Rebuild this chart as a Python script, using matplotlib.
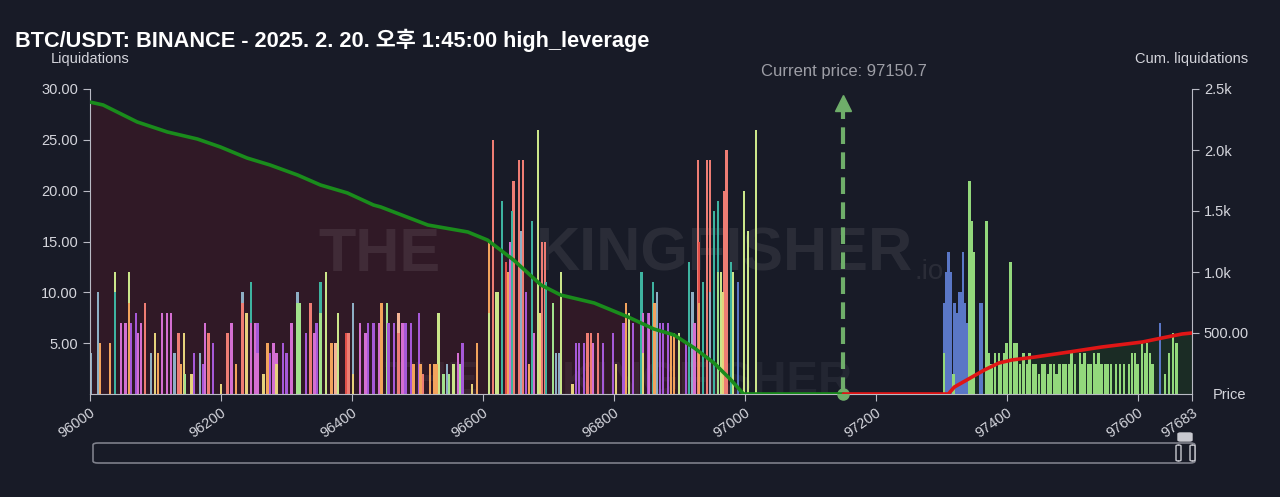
import numpy as np
import matplotlib.pyplot as plt
from matplotlib.patches import FancyBboxPatch

# ---- data ----
title = "BTC/USDT: BINANCE - 2025. 2. 20. 오후 1:45:00 high_leverage"
current_price = 97150.7
x_min, x_max = 96000, 97683
x_ticks = [96000, 96200, 96400, 96600, 96800, 97000, 97200, 97400, 97600, 97683]
left_ticks = [5, 10, 15, 20, 25, 30]
right_ticks = [500, 1000, 1500, 2000, 2500]
right_labels = ["500.00", "1.0k", "1.5k", "2.0k", "2.5k"]

# liquidation bars below the current price (price, height, colour code)
below_prices = [96002, 96012, 96015, 96031, 96038, 96038, 96047, 96054, 96060, 96060,
                96063, 96070, 96073, 96078, 96084, 96093, 96099, 96104, 96110, 96118,
                96124, 96129, 96135, 96139, 96144, 96145, 96155, 96159, 96168, 96173,
                96176, 96181, 96188, 96200, 96210, 96216, 96223, 96233, 96233, 96239,
                96246, 96246, 96252, 96256, 96256, 96265, 96271, 96275, 96280, 96285,
                96285, 96295, 96300, 96308, 96317, 96317, 96321, 96330, 96337, 96343,
                96346, 96352, 96352, 96360, 96369, 96375, 96379, 96392, 96395, 96402,
                96402, 96412, 96421, 96425, 96433, 96441, 96445, 96454, 96456, 96464,
                96471, 96471, 96477, 96482, 96490, 96494, 96502, 96505, 96509, 96519,
                96525, 96529, 96532, 96540, 96545, 96548, 96555, 96562, 96565, 96569,
                96583, 96591, 96609, 96609, 96615, 96620, 96623, 96629, 96635, 96638,
                96641, 96644, 96647, 96655, 96658, 96661, 96666, 96670, 96675, 96678,
                96684, 96687, 96690, 96695, 96696, 96707, 96712, 96716, 96719, 96737,
                96742, 96747, 96754, 96760, 96765, 96768, 96776, 96783, 96799, 96803,
                96815, 96819, 96823, 96829, 96842, 96845, 96845, 96853, 96854, 96860,
                96862, 96866, 96871, 96875, 96883, 96887, 96892, 96900, 96910, 96915,
                96920, 96923, 96929, 96930, 96930, 96936, 96942, 96947, 96947, 96953,
                96959, 96959, 96964, 96967, 96968, 96972, 96979, 96982, 96990, 96999,
                97005, 97017]
below_heights = [4, 10, 5, 5, 12, 10, 7, 7, 12, 9,
                 7, 8, 6, 7, 9, 4, 6, 4, 8, 8,
                 8, 4, 6, 3, 6, 2, 2, 4, 4, 3,
                 7, 6, 5, 1, 6, 7, 3, 10, 9, 8,
                 11, 7, 7, 7, 4, 2, 5, 4, 5, 4,
                 3, 5, 4, 7, 10, 9, 9, 6, 9, 6,
                 7, 11, 8, 12, 5, 5, 8, 6, 6, 9,
                 2, 7, 6, 7, 7, 7, 9, 9, 7, 7,
                 8, 6, 7, 7, 7, 3, 8, 3, 2, 3,
                 3, 3, 8, 2, 3, 2, 3, 4, 3, 5,
                 1, 5, 15, 8, 25, 10, 10, 19, 13, 12,
                 15, 18, 21, 23, 16, 23, 10, 3, 17, 6,
                 26, 8, 15, 15, 11, 9, 4, 4, 12, 1,
                 5, 5, 5, 6, 6, 5, 6, 5, 6, 3,
                 7, 9, 8, 7, 12, 8, 4, 8, 8, 11,
                 9, 10, 7, 7, 7, 6, 6, 6, 5, 13,
                 10, 7, 23, 15, 9, 11, 23, 23, 10, 18,
                 19, 12, 12, 10, 20, 24, 13, 12, 11, 20,
                 16, 26]
below_colors = ("bboogtppgo" "vvppsbyopp" "pbsoylyvbv" "psvyspobsy"
                "tppvpyovpp" "yvvpbllvsp" "vtlgokgrsb" "yppvvpolvv"
                "kspvvovoso" "ooglblgplv" "yoogsggtro" "ptssbsvotp"
                "gysstlbbgy" "vvvsspsvvy" "vogvtpyvpt" "obvvvoogvt"
                "bpsrotssbt" "tlgysstgBg" "gg")

# liquidation bars above the current price
above_prices = [97304, 97305, 97307, 97310, 97311, 97314, 97319, 97320, 97323, 97327,
                97331, 97333, 97336, 97339, 97343, 97346, 97349, 97359, 97362, 97369,
                97372, 97377, 97382, 97388, 97391, 97397, 97400, 97406, 97411, 97415,
                97420, 97426, 97431, 97435, 97440, 97444, 97449, 97454, 97458, 97463,
                97467, 97472, 97476, 97481, 97486, 97490, 97495, 97499, 97504, 97512,
                97516, 97519, 97524, 97528, 97533, 97537, 97540, 97545, 97550, 97554,
                97559, 97567, 97573, 97579, 97587, 97591, 97596, 97600, 97607, 97611,
                97614, 97619, 97623, 97634, 97642, 97648, 97654, 97659]
above_heights = [4, 9, 12, 7, 14, 12, 2, 9, 8, 10,
                 10, 14, 9, 7, 21, 17, 14, 9, 9, 17,
                 4, 3, 4, 4, 3, 4, 5, 13, 5, 5,
                 3, 4, 3, 4, 3, 3, 2, 3, 3, 2,
                 3, 3, 2, 3, 3, 3, 3, 4, 3, 4,
                 3, 4, 3, 3, 4, 3, 4, 3, 3, 3,
                 3, 3, 3, 3, 3, 4, 4, 3, 5, 4,
                 5, 4, 3, 7, 2, 4, 6, 5]
above_colors = ("GBBBBBGBBB" "BBBBGGGBBG" "GGGGGGGGGG" "GGGGGGGGGG"
                "GGGGGGGGGG" "GGGGGGGGGG" "GGGGGGGGGG" "GGGBGGGG")

# cumulative liquidations (right axis)
cum_below_x = [96000, 96020, 96072, 96118, 96164, 96199, 96240, 96275, 96317, 96352,
               96393, 96433, 96444, 96516, 96577, 96607, 96647, 96689, 96719, 96770,
               96822, 96861, 96892, 96923, 96953, 96979, 96998, current_price]
cum_below_y = [2393, 2369, 2230, 2148, 2090, 2025, 1934, 1877, 1795, 1713,
               1648, 1549, 1533, 1385, 1328, 1262, 1098, 893, 811, 746,
               631, 533, 484, 377, 254, 115, 0, 0]
cum_above_x = [current_price, 97311, 97320, 97366, 97388, 97408, 97443, 97495, 97545,
               97607, 97637, 97668, 97683]
cum_above_y = [0, 0, 57, 197, 254, 279, 303, 344, 385, 426, 459, 492, 500]

palette = {
    "p": "#d46fd2", "v": "#a659d8", "s": "#ee7d74", "o": "#f2a35c",
    "y": "#e6d27c", "g": "#cbe68a", "l": "#a2e28c", "t": "#3eb3a0",
    "b": "#8eafc4", "r": "#e2504a", "k": "#f4b596",
    "B": "#5a77c6", "G": "#93d87c",
}

BG = "#181b27"
AXC = "#b9bac4"
TXT = "#d4d5dc"

plt.rcParams["font.family"] = ["Liberation Sans", "Noto Sans CJK KR", "DejaVu Sans"]

fig = plt.figure(figsize=(12.8, 4.97), dpi=100, facecolor=BG)
L, R = 90 / 1280, 1192 / 1280
B, T = (497 - 394) / 497, (497 - 89) / 497
axc = fig.add_axes([L, B, R - L, T - B])   # cumulative fills, x axis, right axis
ax = axc.twinx()                              # bars, left axis
axl = axc.twinx()                             # lines on top
axc.set_zorder(1)
ax.set_zorder(2)
axl.set_zorder(3)
for a in (axc, ax, axl):
    a.patch.set_visible(False)
    a.set_xlim(x_min, x_max)

# fills under cumulative curves
axc.fill_between(cum_below_x, cum_below_y, 0, color="#301926", lw=0)
axc.fill_between(cum_above_x, cum_above_y, 0, color="#1b2c25", lw=0)
axc.set_ylim(0, 2500)

# watermark
wm = dict(transform=axc.transAxes, va="center", fontweight="bold", color="white")
axc.text(0.263, 0.455, "THE", ha="center", fontsize=44, alpha=0.08, **wm)
axc.text(0.576, 0.455, "KINGFISHER", ha="center", fontsize=44, alpha=0.08, **wm)
axc.text(0.748, 0.40, ".io", ha="left", fontsize=20, alpha=0.08,
         **{k: v for k, v in wm.items() if k != "fontweight"})
axc.text(0.31, 0.04, "THE", ha="center", fontsize=34, alpha=0.05, clip_on=False, **wm)
axc.text(0.56, 0.04, "KINGFISHER", ha="center", fontsize=34, alpha=0.05,
         clip_on=False, **wm)

# bars: draw tall first so shorter ones sit on top
def draw_bars(prices, heights, codes, width):
    prices = np.array(prices)
    heights = np.array(heights)
    cols = np.array([palette[c] for c in codes])
    order = np.argsort(-heights, kind="stable")
    ax.bar(prices[order], heights[order], width=width, color=cols[order], lw=0)

draw_bars(below_prices, below_heights, below_colors, 3.6)
draw_bars(above_prices, above_heights, above_colors, 3.8)
ax.set_ylim(0, 30)

# cumulative lines
axl.plot(cum_below_x, cum_below_y, color="#1a8c1c", lw=2.6, solid_capstyle="round")
axl.plot(cum_above_x, cum_above_y, color="#e01616", lw=2.6, solid_capstyle="round")
axl.set_ylim(0, 2500)
axl.axis("off")

# current price marker
cp_col = "#6fae6a"
ax.plot([current_price, current_price], [0, 28.0], color=cp_col, lw=3,
        dashes=(4, 2), zorder=5)
ax.plot(current_price, 28.6, marker="^", ms=11, color=cp_col, zorder=6, clip_on=False)
ax.plot(current_price, 0, marker="o", ms=8, color=cp_col, zorder=6, clip_on=False)
ax.text(current_price, 1.056, f"Current price: {current_price}",
        transform=ax.get_xaxis_transform(), ha="center", va="center",
        fontsize=12, color="#9d9ea6")

# axes styling
for a in (axc, ax, axl):
    for s in a.spines.values():
        s.set_visible(False)
ax.spines["left"].set_visible(True)
ax.spines["left"].set_color(AXC)
axc.spines["bottom"].set_visible(True)
axc.spines["bottom"].set_color(AXC)
axc.spines["right"].set_visible(True)
axc.spines["right"].set_color(AXC)

ax.yaxis.set_label_position("left")
ax.yaxis.tick_left()
ax.set_yticks(left_ticks)
ax.set_yticklabels([f"{v:.2f}" for v in left_ticks])
ax.tick_params(axis="y", colors=AXC, labelcolor=TXT, labelsize=10.5, length=5)

axc.yaxis.tick_right()
axc.set_yticks(right_ticks)
axc.set_yticklabels(right_labels)
axc.tick_params(axis="y", colors=AXC, labelcolor=TXT, labelsize=10.5, length=5)

axc.set_xticks(x_ticks)
axc.set_xticklabels([str(v) for v in x_ticks], rotation=35, ha="right", va="top",
                    rotation_mode="anchor")
axc.tick_params(axis="x", colors=AXC, labelcolor=TXT, labelsize=10.5, length=5)

ax.text(0, 1.098, "Liquidations", transform=ax.transAxes, ha="center", va="center",
        fontsize=10.5, color=TXT)
ax.text(1, 1.098, "Cum. liquidations", transform=ax.transAxes, ha="center",
        va="center", fontsize=10.5, color=TXT)
fig.text(1230 / 1280, (497 - 395) / 497, "Price", ha="center", va="center",
         fontsize=10.5, color=TXT)

fig.text(15 / 1280, 1 - 40 / 497, title, ha="left", va="center", fontsize=15.7,
         fontweight="bold", color="white")

# range slider
fig.patches.append(FancyBboxPatch((93 / 1280, (497 - 463) / 497), 1102 / 1280, 20 / 497,
                                  boxstyle="round,pad=0,rounding_size=0.004",
                                  transform=fig.transFigure, fc="none", ec="#7d7f8a",
                                  lw=1.2))
for hx in (1176, 1190):
    fig.patches.append(FancyBboxPatch((hx / 1280, (497 - 461) / 497), 5 / 1280, 16 / 497,
                                      boxstyle="round,pad=0,rounding_size=0.002",
                                      transform=fig.transFigure, fc=BG, ec="#c8c9d0",
                                      lw=1))
fig.patches.append(FancyBboxPatch((1178 / 1280, (497 - 441) / 497), 14 / 1280, 8 / 497,
                                  boxstyle="round,pad=0,rounding_size=0.002",
                                  transform=fig.transFigure, fc="#c8c9d0", ec="#c8c9d0",
                                  lw=1))

fig.savefig("out.png", dpi=100, facecolor=BG)
